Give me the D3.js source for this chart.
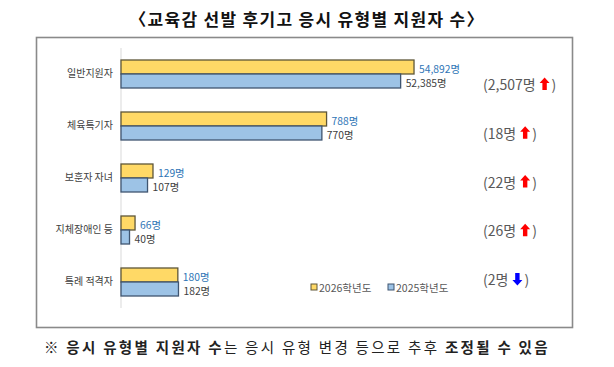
<!DOCTYPE html>
<html><head><meta charset="utf-8">
<script src="https://cdn.jsdelivr.net/npm/d3@7"></script>
<style>
html,body{margin:0;padding:0;background:#fff;}
svg{display:block;}
text{font-family:"Noto Sans CJK KR","Noto Sans",sans-serif;}
</style></head>
<body>
<svg id="chart" width="614" height="367"></svg>
<script>
// ---- data ----
const categories = ["일반지원자", "체육특기자", "보훈자 자녀", "지체장애인 등", "특례 적격자"];
const values2026 = [54892, 788, 129, 66, 180];
const values2025 = [52385, 770, 107, 40, 182];
const seriesNames = ["2026학년도", "2025학년도"];
// the source chart uses a separate (broken) axis maximum for each row
const rowAxisMax = [56200, 1150, 1210, 1410, 950];
const titleText = "〈교육감 선발 후기고 응시 유형별 지원자 수〉";
const noteParts = [
  {t: "※ ", b: false},
  {t: "응시 유형별 지원자 수", b: true},
  {t: "는 응시 유형 변경 등으로 추후 ", b: false},
  {t: "조정될 수 있음", b: true}
];

const svg = d3.select("#chart");
const fmt = d3.format(",");
const colors = {"2026학년도": "#FFD966", "2025학년도": "#9DC3E6"};
const strokes = {"2026학년도": "#5e5638", "2025학년도": "#3f5570"};

// title
svg.append("text").attr("x", 307).attr("y", 18).attr("text-anchor", "middle")
  .attr("dominant-baseline", "central").attr("font-size", 17).attr("font-weight", 700)
  .attr("letter-spacing", 1.3).attr("fill", "#111").text(titleText);

// frame
svg.append("rect").attr("x", 36.5).attr("y", 37.5).attr("width", 536).attr("height", 290)
  .attr("fill", "#fff").attr("stroke", "#8a8a8a").attr("stroke-width", 1.6);

const xLeft = 121, xRight = 421;
const y = d3.scaleBand().domain(categories).range([48, 308]).padding(0);
const inner = d3.scaleBand().domain(seriesNames).range([12, 40]);
const xScales = rowAxisMax.map(m => d3.scaleLinear().domain([0, m]).range([xLeft, xRight]));

// axis line
svg.append("line").attr("x1", xLeft).attr("x2", xLeft).attr("y1", y.range()[0]).attr("y2", y.range()[1])
  .attr("stroke", "#d9d9d9").attr("stroke-width", 1);

// category labels
const yAxis = d3.axisLeft(y).tickSize(0).tickPadding(8);
const ga = svg.append("g").attr("transform", `translate(${xLeft},0)`).call(yAxis);
ga.select(".domain").remove();
ga.selectAll("text").attr("font-size", 10).attr("fill", "#404040")
  .style("font-family", '"Noto Sans CJK KR",sans-serif');

const rows = categories.map((c, i) => ({c, i, vals: [values2026[i], values2025[i]]}));
const g = svg.append("g");
rows.forEach(r => {
  const xs = xScales[r.i];
  seriesNames.forEach((s, k) => {
    const v = r.vals[k];
    const yy = y(r.c) + inner(s);
    g.append("rect").attr("x", xs(0)).attr("y", yy).attr("width", xs(v) - xs(0))
      .attr("height", inner.bandwidth()).attr("fill", colors[s])
      .attr("stroke", strokes[s]).attr("stroke-width", 1.3);
    g.append("text").attr("x", xs(v) + 5).attr("y", yy + inner.bandwidth() / 2 + 1)
      .attr("dominant-baseline", "central").attr("font-size", 10.3)
      .attr("fill", k === 0 ? "#2E75B6" : "#404040").text(fmt(v) + "명");
  });
});

// difference labels
const yd = d3.scalePoint().domain(categories).range([84, 279]);
rows.forEach(r => {
  const d = r.vals[0] - r.vals[1];
  const up = d >= 0;
  const t = svg.append("text").attr("x", 483).attr("y", yd(r.c))
    .attr("dominant-baseline", "central").attr("font-size", 14).attr("fill", "#595959")
    .text("(" + fmt(Math.abs(d)) + "명");
  const w = t.node().getComputedTextLength();
  const ax = 483 + w + 9, ay = yd(r.c);
  // block arrow
  const pts = up
    ? [[0,-6.5],[5,-1],[2.2,-1],[2.2,6],[-2.2,6],[-2.2,-1],[-5,-1]]
    : [[0,6.5],[5,1],[2.2,1],[2.2,-6],[-2.2,-6],[-2.2,1],[-5,1]];
  svg.append("path").attr("d", d3.line()(pts.map(p => [ax + p[0], ay + p[1]])) + "Z")
    .attr("fill", up ? "#FF0000" : "#0000FF");
  svg.append("text").attr("x", ax + 7).attr("y", ay).attr("dominant-baseline", "central")
    .attr("font-size", 14).attr("fill", "#595959").text(")");
});

// legend
const legX = [311, 388];
seriesNames.forEach((s, k) => {
  svg.append("rect").attr("x", legX[k]).attr("y", 284).attr("width", 6).attr("height", 6)
    .attr("fill", colors[s]).attr("stroke", strokes[s]).attr("stroke-width", 1);
  svg.append("text").attr("x", legX[k] + 8).attr("y", 287.5).attr("dominant-baseline", "central")
    .attr("font-size", 10.5).attr("fill", "#595959").text(s);
});

// footnote
const note = svg.append("text").attr("x", 44).attr("y", 346).attr("dominant-baseline", "central")
  .attr("font-size", 14.5).attr("fill", "#222").attr("letter-spacing", 2.3);
noteParts.forEach(p => note.append("tspan").attr("font-weight", p.b ? 700 : 400).text(p.t));
</script>
</body></html>
